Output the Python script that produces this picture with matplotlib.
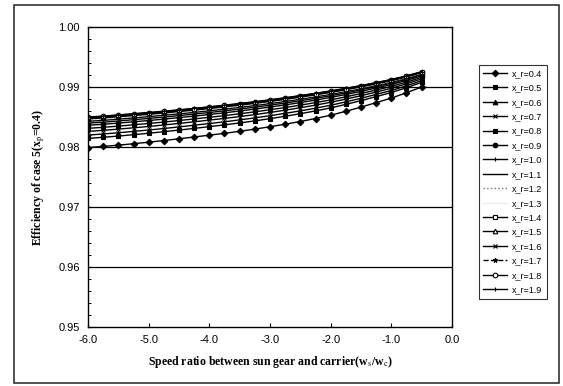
import numpy as np
import matplotlib
matplotlib.use("Agg")
import matplotlib.pyplot as plt
from matplotlib.patches import Rectangle
from matplotlib.ticker import MultipleLocator

plt.rcParams["mathtext.fontset"] = "stix"

# speed ratio ws/wc
speed = [-6.0, -5.75, -5.5, -5.25, -5.0, -4.75, -4.5, -4.25, -4.0, -3.75, -3.5, -3.25,
         -3.0, -2.75, -2.5, -2.25, -2.0, -1.75, -1.5, -1.25, -1.0, -0.75, -0.5]

labels = ["x_r=0.4", "x_r=0.5", "x_r=0.6", "x_r=0.7", "x_r=0.8", "x_r=0.9", "x_r=1.0", "x_r=1.1",
          "x_r=1.2", "x_r=1.3", "x_r=1.4", "x_r=1.5", "x_r=1.6", "x_r=1.7", "x_r=1.8", "x_r=1.9"]

eff_04 = [0.97990, 0.98010, 0.98030, 0.98055, 0.98080, 0.98108, 0.98137, 0.98167, 0.98197, 0.98228, 0.98262, 0.98298,
          0.98338, 0.98380, 0.98425, 0.98475, 0.98530, 0.98595, 0.98665, 0.98740, 0.98815, 0.98905, 0.99000]
eff_05 = [0.98143, 0.98162, 0.98182, 0.98205, 0.98229, 0.98255, 0.98282, 0.98310, 0.98339, 0.98369, 0.98401, 0.98435,
          0.98473, 0.98512, 0.98555, 0.98601, 0.98652, 0.98710, 0.98773, 0.98840, 0.98908, 0.98989, 0.99077]
eff_06 = [0.98199, 0.98217, 0.98237, 0.98260, 0.98283, 0.98308, 0.98335, 0.98363, 0.98391, 0.98420, 0.98452, 0.98485,
          0.98522, 0.98561, 0.98602, 0.98647, 0.98696, 0.98752, 0.98812, 0.98877, 0.98942, 0.99020, 0.99105]
eff_07 = [0.98260, 0.98278, 0.98298, 0.98320, 0.98342, 0.98367, 0.98393, 0.98420, 0.98448, 0.98477, 0.98507, 0.98540,
          0.98576, 0.98614, 0.98654, 0.98698, 0.98745, 0.98798, 0.98855, 0.98916, 0.98979, 0.99053, 0.99135]
eff_08 = [0.98311, 0.98328, 0.98348, 0.98370, 0.98392, 0.98416, 0.98441, 0.98468, 0.98495, 0.98523, 0.98554, 0.98586,
          0.98621, 0.98658, 0.98697, 0.98740, 0.98785, 0.98836, 0.98891, 0.98950, 0.99010, 0.99081, 0.99161]
eff_09 = [0.98362, 0.98379, 0.98399, 0.98420, 0.98441, 0.98465, 0.98490, 0.98515, 0.98542, 0.98570, 0.98600, 0.98632,
          0.98666, 0.98702, 0.98740, 0.98782, 0.98826, 0.98875, 0.98927, 0.98983, 0.99041, 0.99109, 0.99186]
eff_10 = [0.98398, 0.98414, 0.98434, 0.98455, 0.98476, 0.98499, 0.98523, 0.98549, 0.98575, 0.98603, 0.98632, 0.98664,
          0.98697, 0.98733, 0.98771, 0.98811, 0.98854, 0.98901, 0.98952, 0.99006, 0.99063, 0.99129, 0.99204]
eff_11 = [0.98429, 0.98444, 0.98464, 0.98485, 0.98506, 0.98529, 0.98552, 0.98577, 0.98604, 0.98631, 0.98660, 0.98691,
          0.98724, 0.98759, 0.98797, 0.98836, 0.98878, 0.98924, 0.98974, 0.99026, 0.99082, 0.99146, 0.99219]
eff_12 = [0.98449, 0.98465, 0.98485, 0.98505, 0.98526, 0.98548, 0.98572, 0.98596, 0.98623, 0.98650, 0.98679, 0.98709,
          0.98742, 0.98777, 0.98814, 0.98853, 0.98895, 0.98940, 0.98988, 0.99040, 0.99094, 0.99157, 0.99230]
eff_13 = [0.98459, 0.98475, 0.98495, 0.98515, 0.98535, 0.98558, 0.98581, 0.98606, 0.98632, 0.98659, 0.98688, 0.98718,
          0.98751, 0.98786, 0.98822, 0.98861, 0.98903, 0.98947, 0.98995, 0.99046, 0.99100, 0.99163, 0.99235]
eff_14 = [0.98469, 0.98485, 0.98505, 0.98525, 0.98545, 0.98568, 0.98591, 0.98615, 0.98642, 0.98669, 0.98697, 0.98728,
          0.98760, 0.98795, 0.98831, 0.98870, 0.98911, 0.98955, 0.99002, 0.99053, 0.99106, 0.99168, 0.99240]
eff_15 = [0.98480, 0.98495, 0.98515, 0.98535, 0.98555, 0.98577, 0.98601, 0.98625, 0.98651, 0.98678, 0.98706, 0.98737,
          0.98769, 0.98803, 0.98840, 0.98878, 0.98919, 0.98963, 0.99010, 0.99060, 0.99113, 0.99174, 0.99245]
eff_16 = [0.98485, 0.98500, 0.98520, 0.98540, 0.98560, 0.98582, 0.98606, 0.98630, 0.98656, 0.98683, 0.98711, 0.98741,
          0.98774, 0.98808, 0.98844, 0.98882, 0.98923, 0.98967, 0.99013, 0.99063, 0.99116, 0.99177, 0.99247]
eff_17 = [0.98490, 0.98505, 0.98525, 0.98545, 0.98565, 0.98587, 0.98610, 0.98634, 0.98661, 0.98688, 0.98716, 0.98746,
          0.98778, 0.98812, 0.98848, 0.98887, 0.98927, 0.98970, 0.99017, 0.99066, 0.99119, 0.99179, 0.99250]
eff_18 = [0.98495, 0.98510, 0.98530, 0.98550, 0.98570, 0.98592, 0.98615, 0.98639, 0.98665, 0.98692, 0.98720, 0.98750,
          0.98783, 0.98817, 0.98853, 0.98891, 0.98931, 0.98974, 0.99020, 0.99070, 0.99122, 0.99182, 0.99252]
eff_19 = [0.98500, 0.98515, 0.98535, 0.98555, 0.98575, 0.98597, 0.98620, 0.98644, 0.98670, 0.98697, 0.98725, 0.98755,
          0.98787, 0.98821, 0.98857, 0.98895, 0.98935, 0.98978, 0.99024, 0.99073, 0.99125, 0.99185, 0.99255]

series = [eff_04, eff_05, eff_06, eff_07, eff_08, eff_09, eff_10, eff_11,
          eff_12, eff_13, eff_14, eff_15, eff_16, eff_17, eff_18, eff_19]

# excel-ish styles: (marker, markerfacecolor, linestyle, color)
styles = [
    ("D", "black", "-", "black"),
    ("s", "black", "-", "black"),
    ("^", "black", "-", "black"),
    ("x", "black", "-", "black"),
    ("s", "black", "-", "black"),
    ("o", "black", "-", "black"),
    ("+", "black", "-", "black"),
    ("", "black", "-", "black"),
    ("", "black", ":", "#777777"),
    ("", "white", "-", "#eeeeee"),
    ("s", "white", "-", "black"),
    ("^", "white", "-", "black"),
    ("x", "black", "-", "black"),
    ("*", "black", "--", "black"),
    ("o", "white", "-", "black"),
    ("+", "black", "-", "black"),
]

fig = plt.figure(figsize=(5.63, 3.86), dpi=100)
ax = fig.add_axes([88/563, 1-327/386, 364/563, 300/386])

for vals, lab, (mk, mfc, ls, col) in zip(series, labels, styles):
    ax.plot(speed, vals, color=col, linestyle=ls, linewidth=1.0, marker=mk,
            markersize=3.3, markerfacecolor=mfc, markeredgecolor="black",
            markeredgewidth=0.8, label=lab)

for g in [0.96, 0.97, 0.98, 0.99]:
    ax.axhline(g, color="black", linewidth=0.9, zorder=0)

ax.set_xlim(-6.0, 0.0)
ax.set_ylim(0.95, 1.00)
ax.yaxis.set_minor_locator(MultipleLocator(0.002))
ax.set_xticks([-6, -5, -4, -3, -2, -1, 0])
ax.set_xticklabels(["-6.0", "-5.0", "-4.0", "-3.0", "-2.0", "-1.0", "0.0"])
ax.set_yticks([0.95, 0.96, 0.97, 0.98, 0.99, 1.00])
ax.set_yticklabels(["0.95", "0.96", "0.97", "0.98", "0.99", "1.00"])
ax.tick_params(axis="both", which="major", direction="in", length=3, width=0.8,
               labelsize=8, pad=6)
ax.tick_params(axis="y", which="minor", direction="in", length=2, width=0.7)
for lbl in ax.get_xticklabels() + ax.get_yticklabels():
    lbl.set_family("Liberation Sans")
for s in ax.spines.values():
    s.set_linewidth(1.0)

ax.set_xlabel(r"Speed ratio between sun gear and carrier(w$_\mathrm{s}$/w$_\mathrm{c}$)",
              family="Liberation Serif", fontsize=8.5, fontweight="bold", labelpad=6)
ax.set_ylabel(r"Efficiency of case 5(x$_\mathrm{p}$=0.4)",
              family="Liberation Serif", fontsize=8.5, fontweight="bold", labelpad=8)

leg = fig.legend(loc="upper left", bbox_to_anchor=(474/563, 1-60/386),
                 fontsize=6.5, frameon=True, fancybox=False, edgecolor="black",
                 handlelength=2.6, labelspacing=0.6, borderpad=0.5, handletextpad=0.6)
leg.get_frame().set_linewidth(0.8)
for t in leg.get_texts():
    t.set_family("Liberation Sans")

fig.patches.append(Rectangle((14/563, 3/386), 545/563, 378/386, transform=fig.transFigure,
                             fill=False, edgecolor="#333333", linewidth=1.2))

fig.savefig("out.png", dpi=100)
